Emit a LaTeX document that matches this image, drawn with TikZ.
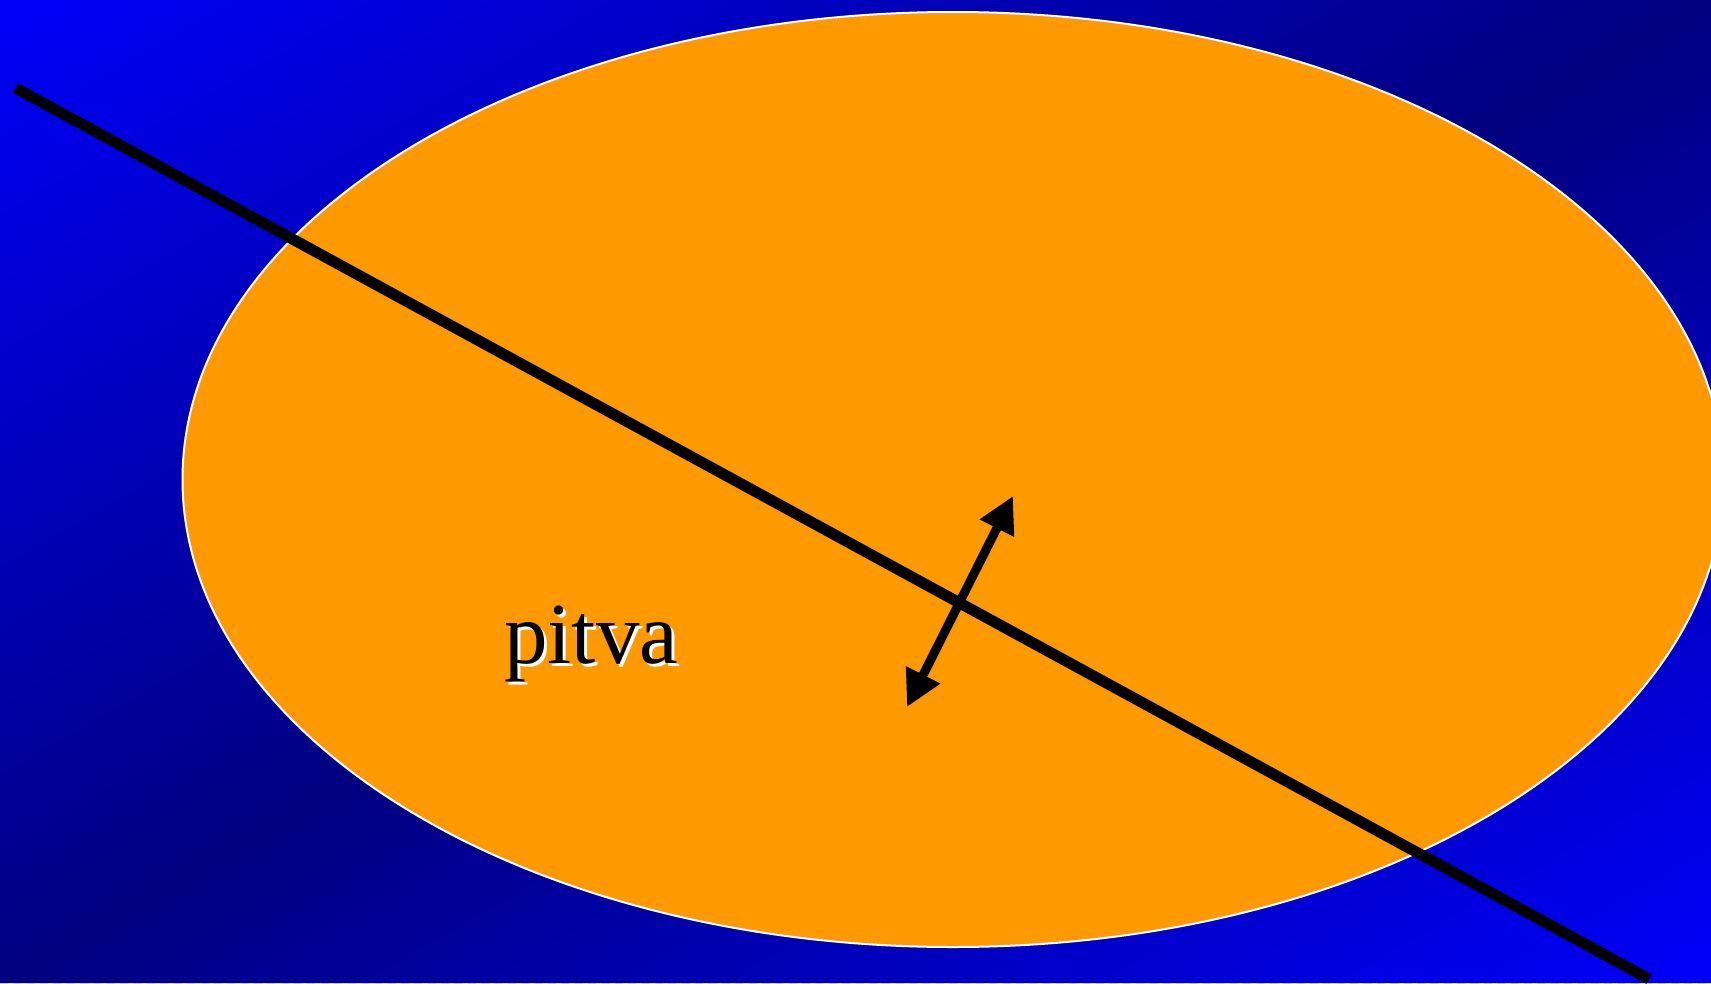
\documentclass[tikz,border=0pt]{standalone}
\usepackage{fontspec}
\setmainfont{Liberation Serif}
\usetikzlibrary{arrows.meta}
\definecolor{ovalfill}{RGB}{255,153,0}
\tikzset{
  mainline/.style={line width=11pt, black},
  dblarrow/.style={line width=9pt, black,
    {Triangle[length=36pt,width=36pt]}-{Triangle[length=36pt,width=36pt]}},
  oval/.style={fill=ovalfill, draw=white, line width=2pt},
  labeltext/.style={anchor=base west, inner sep=0pt, font=\fontsize{87pt}{100pt}\selectfont}
}
\begin{document}
\begin{tikzpicture}[x=1pt,y=-1pt]
\useasboundingbox (0,0) rectangle (1711,983);
\begin{scope}
\clip (0,0) rectangle (1711,983);
% diagonal mirrored gradient background
\foreach \i in {0,...,255}{
  \pgfmathsetmacro{\sa}{\i/128}
  \pgfmathsetmacro{\sb}{(\i+1.6)/128}
  \pgfmathsetmacro{\sm}{(\i+0.5)/128}
  \pgfmathtruncatemacro{\nb}{round(250-122*(1-abs(1-\sm)))}
  \definecolor{bgc}{RGB}{0,0,\nb}
  \fill[bgc] ({\sa*1711-1711},983) -- ({\sa*1711+1711},-983) -- ({\sb*1711+1711},-983) -- ({\sb*1711-1711},983) -- cycle;
}
% oval
\draw[oval] (953,479.5) ellipse [x radius=770.5pt, y radius=467.5pt];
% label with shadow
\node[labeltext, text=white] (lblshadow) at (507,666) {pitva};
\node[labeltext, text=black] (lbl) at (504,663) {pitva};
% long line
\coordinate (lineA) at (15.5,88);
\coordinate (lineB) at (1649,979);
\draw[mainline] (lineA) -- (lineB);
% double arrow
\coordinate (arrLow) at (907,707);
\coordinate (arrUp) at (1013,496);
\draw[dblarrow] (arrLow) -- (arrUp);
\end{scope}
\end{tikzpicture}
\end{document}
